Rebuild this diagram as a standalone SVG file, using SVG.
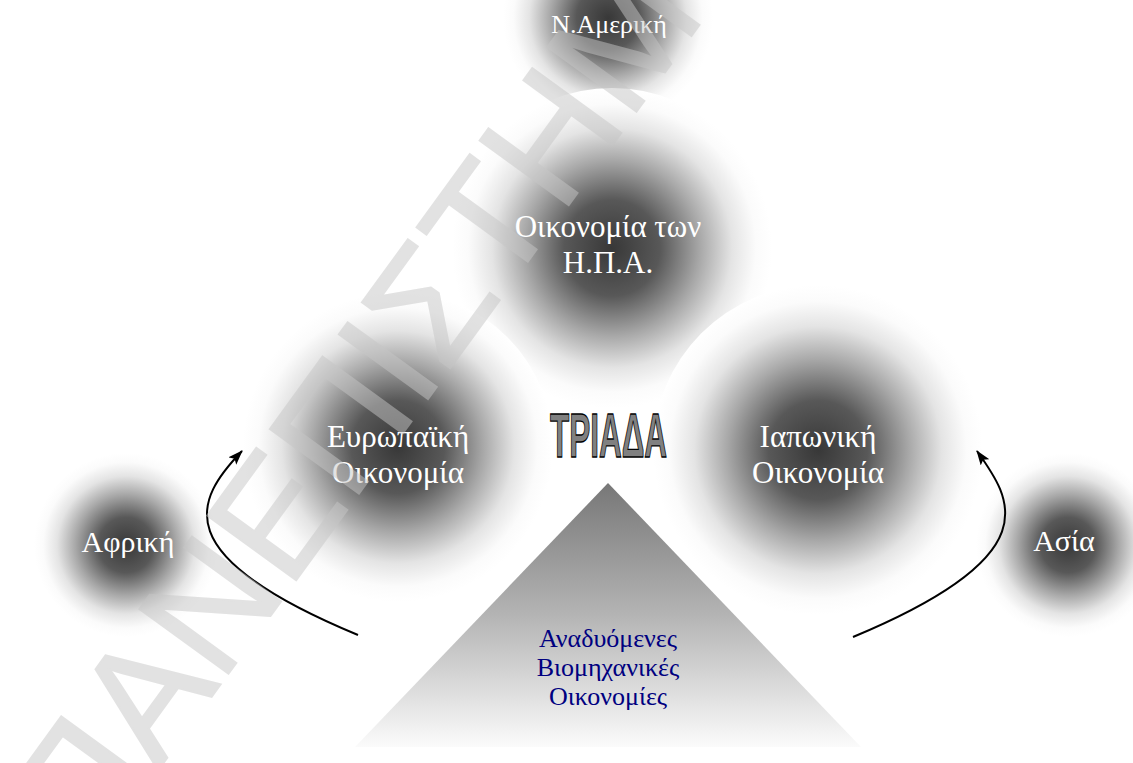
<svg xmlns="http://www.w3.org/2000/svg" width="1133" height="763" viewBox="0 0 1133 763">
<defs>
<radialGradient id="blob" cx="0.5" cy="0.5" r="0.5">
<stop offset="0" stop-color="#383838"/>
<stop offset="0.3" stop-color="#585858"/>
<stop offset="0.55" stop-color="#a8a8a8"/>
<stop offset="0.75" stop-color="#e4e4e4"/>
<stop offset="0.9" stop-color="#fbfbfb"/>
<stop offset="1" stop-color="#ffffff"/>
</radialGradient>
<linearGradient id="pyr" x1="0" y1="0" x2="0" y2="1">
<stop offset="0" stop-color="#777777"/>
<stop offset="0.5" stop-color="#b4b4b4"/>
<stop offset="1" stop-color="#fbfbfb"/>
</linearGradient>
<marker id="ah" viewBox="0 0 14 10" refX="13" refY="5" markerWidth="15" markerHeight="11" markerUnits="userSpaceOnUse" orient="auto">
<path d="M0,0 L14,5 L0,10 L3,5 z" fill="#000"/>
</marker>
<style>
.lbl{font-family:"Liberation Serif","DejaVu Serif",serif;font-size:31px;fill:#ffffff;text-anchor:middle}
.sm{font-size:26px}
.md{font-size:30px}
.pt{font-family:"Liberation Serif","DejaVu Serif",serif;font-size:26px;fill:#000080;text-anchor:middle}
.conn{fill:none;stroke:#000;stroke-width:2;marker-end:url(#ah)}
.wm{font-family:"Liberation Sans","DejaVu Sans",sans-serif;font-size:160px;fill:#c6c6c6;stroke:#c6c6c6;stroke-width:2}
.tri{font-family:"Liberation Sans","DejaVu Sans",sans-serif;font-weight:bold;font-size:63px;fill:#808080;stroke:#000;stroke-width:1.3}
</style>
</defs>
<rect width="1133" height="763" fill="#ffffff"/>
<g id="n-america">
<circle cx="608" cy="18" r="105" fill="url(#blob)"/>
<text class="lbl sm" x="609" y="33">Ν.Αμερική</text>
</g>
<g id="usa">
<circle cx="612" cy="248" r="160" fill="url(#blob)"/>
<text class="lbl" x="608" y="237">Οικονομία των</text>
<text class="lbl" x="608" y="273">Η.Π.Α.</text>
</g>
<g id="europe">
<circle cx="398" cy="447" r="155" fill="url(#blob)"/>
<text class="lbl" x="398" y="447">Ευρωπαϊκή</text>
<text class="lbl" x="398" y="483">Οικονομία</text>
</g>
<g id="japan">
<circle cx="818" cy="450" r="165" fill="url(#blob)"/>
<text class="lbl" x="818" y="447">Ιαπωνική</text>
<text class="lbl" x="818" y="483">Οικονομία</text>
</g>
<g id="africa">
<circle cx="126" cy="545" r="92" fill="url(#blob)"/>
<text class="lbl md" x="128" y="552">Αφρική</text>
</g>
<g id="asia">
<circle cx="1068" cy="545" r="92" fill="url(#blob)"/>
<text class="lbl md" x="1064" y="551">Ασία</text>
</g>
<g id="emerging">
<polygon points="608,483 355,747 861,747" fill="url(#pyr)"/>
<text class="pt" x="608" y="647">Αναδυόμενες</text>
<text class="pt" x="608" y="676">Βιομηχανικές</text>
<text class="pt" x="608" y="705">Οικονομίες</text>
</g>
<g id="triada" transform="translate(608.5,457) scale(0.5,1)">
<text class="tri" x="0" y="0" text-anchor="middle" stroke-width="2">ΤΡΙΑΔΑ</text>
</g>
<g id="connectors">
<path class="conn" d="M358,635 C165,555 195,500 242,451"/>
<path class="conn" d="M853,637 C1050,555 1012,500 977,451"/>
</g>
<g id="watermark" opacity="0.5">
<text class="wm" transform="translate(90,864) rotate(-54)" x="0" y="0">ΠΑΝΕΠΙΣΤΗΜ</text>
</g>
</svg>
